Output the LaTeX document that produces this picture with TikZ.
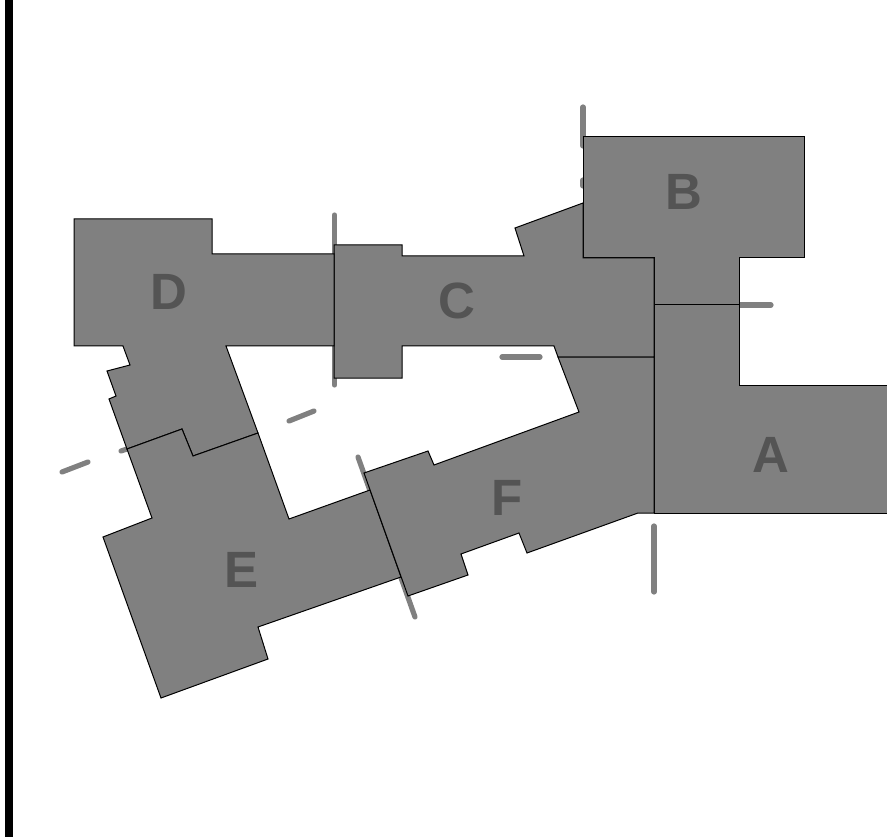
\documentclass[tikz,border=0pt]{standalone}
\usepackage{fontspec}
\setmainfont{Liberation Sans}
\usepackage{tikz}
\tikzset{
  wing/.style={draw=black,fill=black!50,line width=1pt,line join=miter},
  stub/.style={draw=black!50,line width=5.2pt,line cap=round},
  winglabel/.style={inner sep=0pt,text=black!67,font=\fontsize{51}{51}\selectfont\bfseries}
}
\begin{document}
\begin{tikzpicture}[x=1pt,y=-1pt]
\useasboundingbox (0,0) rectangle (887,837);
\fill[black] (5,0) rectangle (13,837);
\draw[stub] (583,107) -- (583,146);
\draw[stub] (583,180) -- (583,186);
\draw[stub] (334.5,215) -- (334.5,385);
\draw[stub] (740,305) -- (771,305);
\draw[stub] (502,357) -- (540,357);
\draw[stub] (62,472) -- (88,462);
\draw[stub] (121,451) -- (130,448);
\draw[stub] (289,421) -- (314,411);
\draw[stub] (358,457) -- (415,617);
\draw[stub] (654,526) -- (654,592);
\draw[wing] (654,305) -- (739.5,305) -- (739.5,385) -- (887,385) -- (887,513) -- (654,513) -- cycle;
\draw[wing] (583,137) -- (804.5,137) -- (804.5,258) -- (739.5,258) -- (739.5,305) -- (654,305) -- (654,258) -- (583,258) -- cycle;
\draw[wing] (334,245) -- (402,245) -- (402,256) -- (524,256) -- (515,228) -- (583,203) -- (583,258) -- (654,258) -- (654,357) -- (558,357) -- (554,346) -- (402,346) -- (402,378) -- (334,378) -- cycle;
\draw[wing] (74,219) -- (212,219) -- (212,254) -- (334,254) -- (334,346) -- (226,346) -- (258,433) -- (193,456) -- (182,429) -- (127,449) -- (109,399) -- (116,396) -- (107,371) -- (130,365) -- (123,346) -- (74,346) -- cycle;
\draw[wing] (127,449) -- (182,429) -- (193,456) -- (258,433) -- (289,519) -- (370,490) -- (401,577) -- (258,627) -- (268,659) -- (161,698) -- (103,537) -- (152,518) -- cycle;
\draw[wing] (364,473) -- (428,451) -- (434,465) -- (579,412) -- (558,357) -- (654,357) -- (654,513) -- (638,513) -- (527,553) -- (519,533) -- (461,554) -- (468,575) -- (408,596) -- cycle;
\node[winglabel] (labelA) at (771,454.5) {A};
\node[winglabel] (labelB) at (684,191.5) {B};
\node[winglabel] (labelC) at (457,301) {C};
\node[winglabel] (labelD) at (169,292) {D};
\node[winglabel] (labelE) at (241.5,569.5) {E};
\node[winglabel] (labelF) at (507,498) {F};
\end{tikzpicture}
\end{document}
